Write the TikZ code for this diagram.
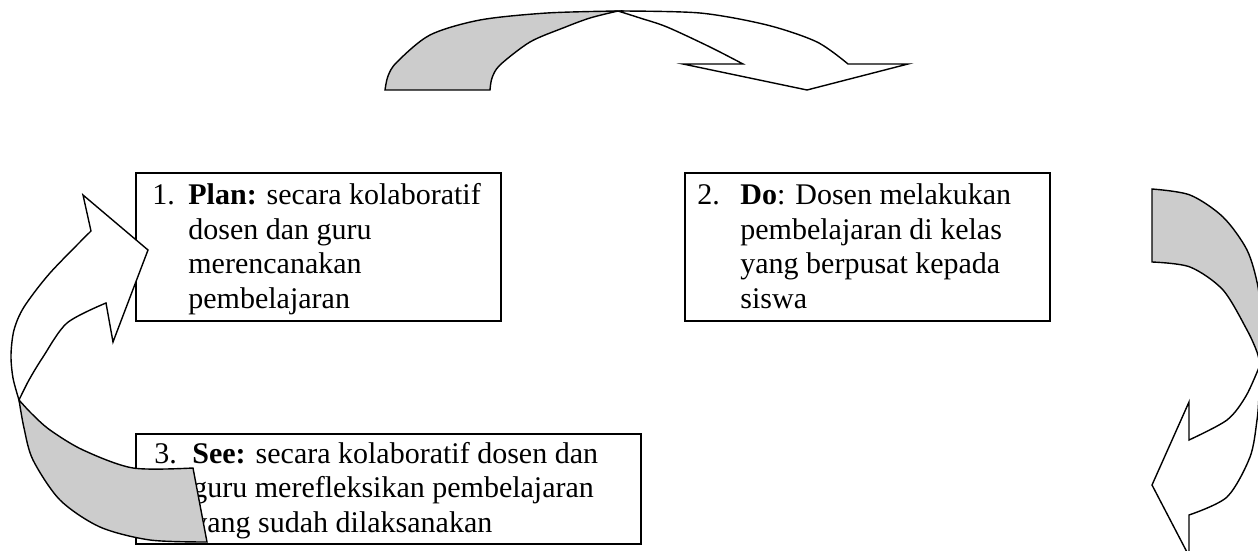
\documentclass[tikz,border=0pt]{standalone}
\usepackage{fontspec}
\setmainfont{Liberation Serif}
\definecolor{arrowgray}{RGB}{204,204,204}
\tikzset{
  box/.style={draw, line width=0.75pt, fill=white, anchor=north west, inner sep=0pt},
  txt/.style={anchor=base west, inner sep=0pt, font=\fontsize{15}{17.25}\selectfont},
  band/.style={draw, line width=0.7pt, line join=miter},
}
\begin{document}
\begin{tikzpicture}[x=0.5pt,y=-0.5pt]
\useasboundingbox (0,0) rectangle (1258,551);
\clip (0,0) rectangle (1258,551);
\fill[white] (0,0) rectangle (1258,551);

% boxes
\node[box, minimum width=182.5pt, minimum height=74pt] (b1) at (135,172) {};
\node[box, minimum width=182.5pt, minimum height=74pt] (b2) at (684,172) {};
\node[box, minimum width=252.5pt, minimum height=55pt] (b3) at (135,433) {};

% texts
\node[txt] (t1) at (152,205) {\begin{tabular}[t]{@{}l@{}}
\makebox[18pt][l]{1.}\textbf{Plan:} secara kolaboratif\\
\hspace*{18pt}dosen dan guru\\
\hspace*{18pt}merencanakan\\
\hspace*{18pt}pembelajaran\end{tabular}};
\node[txt] (t2) at (697,205) {\begin{tabular}[t]{@{}l@{}}
\makebox[21.5pt][l]{2.}\textbf{Do}: Dosen melakukan\\
\hspace*{21.5pt}pembelajaran di kelas\\
\hspace*{21.5pt}yang berpusat kepada\\
\hspace*{21.5pt}siswa\end{tabular}};
\node[txt] (t3) at (154,463) {\begin{tabular}[t]{@{}l@{}}
\makebox[19pt][l]{3.}\textbf{See:} secara kolaboratif dosen dan\\
\hspace*{19pt}guru merefleksikan pembelajaran\\
\hspace*{19pt}yang sudah dilaksanakan\end{tabular}};

% top curved arrow
\filldraw[band, fill=arrowgray] (385,90) -- plot[smooth] coordinates {(385,90) (388,76) (397,62) (430,35) (480,20) (547,13) (618,11)}
  -- plot[smooth] coordinates {(618,11) (590,18) (563,28) (530,42) (500,65) (492,78) (490,90)} -- cycle;
\filldraw[band, fill=white] (618,11) -- plot[smooth] coordinates {(618,11) (700,13) (767,25) (817,42) (848,64)}
  -- (908,64) -- (807,90) -- (683,64) -- (743,64)
  -- plot[smooth] coordinates {(743,64) (710,47) (667,27) (640,18) (618,11)} -- cycle;

% left curved arrow
\filldraw[band, fill=arrowgray] (207,542) -- (193,468)
  -- plot[smooth] coordinates {(193,468) (133,468) (83,450) (50,430) (32,414) (19,400)}
  -- plot[smooth] coordinates {(19,400) (24,428) (33,460) (60,500) (100,527) (150,540) (207,542)} -- cycle;
\filldraw[band, fill=white] (19,400) -- plot[smooth] coordinates {(19,400) (13,378) (11,355) (14,330) (24,307) (50,273) (91,231)}
  -- (83,195) -- (148,250) -- (113,342) -- (106,303)
  -- plot[smooth] coordinates {(106,303) (67,323) (43,357) (29,380) (19,400)} -- cycle;

% right curved arrow
\filldraw[band, fill=arrowgray] (1152,262) -- (1152,189)
  -- plot[smooth] coordinates {(1152,189) (1190,195) (1223,217) (1247,250) (1258,287) (1261,325) (1260,365)}
  -- plot[smooth] coordinates {(1260,365) (1257,352) (1247,330) (1223,290) (1190,267) (1152,262)} -- cycle;
\filldraw[band, fill=white] (1260,365) -- plot[smooth] coordinates {(1260,365) (1259,395) (1257,420) (1250,457) (1227,497) (1189,515)}
  -- (1189,556) -- (1152,485) -- (1189,402) -- (1189,440)
  -- plot[smooth] coordinates {(1189,440) (1227,420) (1246,396) (1260,365)} -- cycle;
\end{tikzpicture}
\end{document}
